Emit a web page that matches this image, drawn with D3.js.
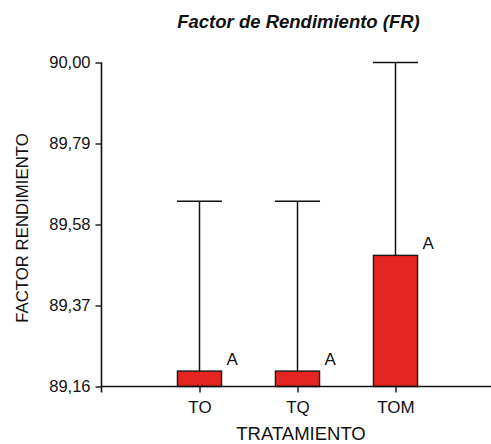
<!DOCTYPE html>
<html>
<head>
<meta charset="utf-8">
<script src="https://cdn.jsdelivr.net/npm/d3@7"></script>
<style>
  html, body { margin: 0; padding: 0; background: #fff; }
  svg { display: block; font-family: "Liberation Sans", Arial, sans-serif; }
</style>
</head>
<body>
<svg id="chart" width="491" height="444"></svg>
<script>
// Treatments and their mean yield factor with upper error limit
const categories = ["TO", "TQ", "TOM"];
const means = [89.20, 89.20, 89.50];
const upperLimits = [89.64, 89.64, 90.00];
const groupLetters = ["A", "A", "A"];
const yTicks = [89.16, 89.37, 89.58, 89.79, 90.00];

const svg = d3.select("#chart");
const plotLeft = 101.5, plotRight = 491, plotTop = 62.5, plotBottom = 386.5;

const x = d3.scalePoint().domain(categories).range([plotLeft, 493.5]).padding(1);
const y = d3.scaleLinear().domain([89.16, 90.00]).range([plotBottom, plotTop]);
const barW = x.step() * 0.45;
const fmt = v => d3.format(".2f")(v).replace(".", ",");

const data = categories.map((c, i) => ({ c, mean: means[i], hi: upperLimits[i], letter: groupLetters[i] }));

// bars
svg.append("g").selectAll("rect").data(data).join("rect")
  .attr("x", d => x(d.c) - barW / 2)
  .attr("y", d => y(d.mean))
  .attr("width", barW)
  .attr("height", d => y(89.16) - y(d.mean))
  .attr("fill", "#e52521")
  .attr("stroke", "#1a1a1a")
  .attr("stroke-width", 1.4);

// upper error whiskers
const eb = svg.append("g").attr("stroke", "#111").attr("stroke-width", 1.5);
eb.selectAll("line.stem").data(data).join("line").attr("class", "stem")
  .attr("x1", d => x(d.c)).attr("x2", d => x(d.c))
  .attr("y1", d => y(d.mean)).attr("y2", d => y(d.hi));
eb.selectAll("line.cap").data(data).join("line").attr("class", "cap")
  .attr("x1", d => x(d.c) - barW / 2 - 0.5).attr("x2", d => x(d.c) + barW / 2 + 0.5)
  .attr("y1", d => y(d.hi)).attr("y2", d => y(d.hi));

// significance letters
svg.append("g").selectAll("text").data(data).join("text")
  .attr("x", d => x(d.c) + barW / 2 + 5)
  .attr("y", d => y(d.mean) - 6)
  .attr("font-size", 17)
  .attr("fill", "#111")
  .text(d => d.letter);

// y axis
const yAxis = svg.append("g").attr("transform", `translate(${plotLeft},0)`)
  .call(d3.axisLeft(y).tickValues(yTicks).tickFormat(fmt).tickSize(6).tickPadding(5).tickSizeOuter(0));
yAxis.select(".domain").remove();
yAxis.selectAll("text").attr("font-size", 16.5).attr("fill", "#111").attr("font-family", "Liberation Sans, Arial, sans-serif");
yAxis.selectAll("line").attr("stroke", "#111").attr("stroke-width", 1.4);
svg.append("line").attr("x1", plotLeft).attr("x2", plotLeft).attr("y1", y(90.00)).attr("y2", plotBottom + 6)
  .attr("stroke", "#111").attr("stroke-width", 1.6);

// x axis
const xAxis = svg.append("g").attr("transform", `translate(0,${plotBottom})`)
  .call(d3.axisBottom(x).tickSize(6).tickPadding(8).tickSizeOuter(0));
xAxis.select(".domain").remove();
xAxis.selectAll("text").attr("font-size", 17).attr("fill", "#111").attr("font-family", "Liberation Sans, Arial, sans-serif");
xAxis.selectAll("line").attr("stroke", "#111").attr("stroke-width", 1.4);
svg.append("line").attr("x1", plotLeft).attr("x2", plotRight).attr("y1", plotBottom).attr("y2", plotBottom)
  .attr("stroke", "#111").attr("stroke-width", 1.6);

// titles
svg.append("text").attr("x", 298.5).attr("y", 28).attr("text-anchor", "middle")
  .attr("font-size", 18.5).attr("font-weight", "bold").attr("font-style", "italic").attr("fill", "#111")
  .text("Factor de Rendimiento (FR)");
svg.append("text").attr("transform", "translate(27.5,228) rotate(-90)").attr("text-anchor", "middle")
  .attr("font-size", 16.8).attr("fill", "#111").text("FACTOR RENDIMIENTO");
svg.append("text").attr("x", 301).attr("y", 440).attr("text-anchor", "middle")
  .attr("font-size", 18.5).attr("fill", "#111").text("TRATAMIENTO");
</script>
</body>
</html>
